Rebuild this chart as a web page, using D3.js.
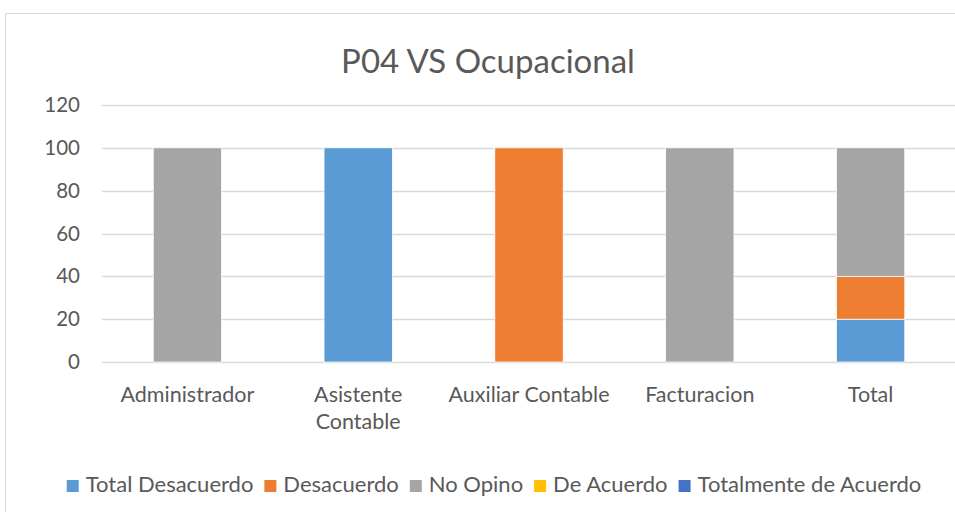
<!DOCTYPE html>
<html><head><meta charset="utf-8">
<script src="https://cdn.jsdelivr.net/npm/d3@7"></script>
<style>body{margin:0;background:#fff}svg{display:block}text{font-family:Lato,"Open Sans",sans-serif;fill:#595959}</style>
</head><body><svg id="c" width="955" height="512"></svg>
<script>
const categories = ["Administrador", "Asistente Contable", "Auxiliar Contable", "Facturacion", "Total"];
const seriesNames = ["Total Desacuerdo", "Desacuerdo", "No Opino", "De Acuerdo", "Totalmente de Acuerdo"];
const totalDesacuerdo = [0, 100, 0, 0, 20];
const desacuerdo = [0, 0, 100, 0, 20];
const noOpino = [100, 0, 0, 100, 60];
const deAcuerdo = [0, 0, 0, 0, 0];
const totalmenteDeAcuerdo = [0, 0, 0, 0, 0];
const yTicks = [0, 20, 40, 60, 80, 100, 120];
const colors = ["#5B9BD5", "#ED7D31", "#A5A5A5", "#FFC000", "#4472C4"];

const svg = d3.select("#c");
svg.append("rect").attr("x", 5.5).attr("y", 13.5).attr("width", 960).attr("height", 520)
  .attr("fill", "#fff").attr("stroke", "#D9D9D9");

const m = {left: 102, right: 956, top: 105, bottom: 362};
const x = d3.scaleBand().domain(categories).range([m.left, m.right]).paddingInner(0.6).paddingOuter(0.3);
const y = d3.scaleLinear().domain([0, 120]).range([m.bottom, m.top]);

svg.append("text").attr("x", 488).attr("y", 73).attr("text-anchor", "middle")
  .attr("font-size", 33).text("P04 VS Ocupacional");

// gridlines
svg.append("g").selectAll("line").data(yTicks).join("line")
  .attr("x1", m.left).attr("x2", m.right)
  .attr("y1", d => Math.round(y(d)) + 0.5).attr("y2", d => Math.round(y(d)) + 0.5)
  .attr("stroke", "#D9D9D9").attr("stroke-width", 1.5);

const yAxis = svg.append("g").attr("transform", `translate(${m.left},0)`)
  .call(d3.axisLeft(y).tickValues(yTicks).tickSize(0).tickPadding(22));
yAxis.select(".domain").remove();
yAxis.selectAll("text").attr("font-size", 20.5).style("font-family", "Lato,sans-serif").attr("fill", "#595959");

const table = categories.map((c, i) => ({
  cat: c,
  "Total Desacuerdo": totalDesacuerdo[i],
  "Desacuerdo": desacuerdo[i],
  "No Opino": noOpino[i],
  "De Acuerdo": deAcuerdo[i],
  "Totalmente de Acuerdo": totalmenteDeAcuerdo[i]
}));
const stacked = d3.stack().keys(seriesNames)(table);

svg.append("g").selectAll("g").data(stacked).join("g")
  .attr("fill", (d, i) => colors[i])
  .selectAll("rect").data(d => d.filter(p => p[1] - p[0] > 0)).join("rect")
  .attr("x", d => x(d.data.cat)).attr("width", x.bandwidth())
  .attr("y", d => y(d[1])).attr("height", d => y(d[0]) - y(d[1]))
  .attr("stroke", "#fff").attr("stroke-width", 0.75);

// x labels
const xLabelLines = {"Asistente Contable": ["Asistente", "Contable"]};
const xl = svg.append("g");
categories.forEach(c => {
  const lines = xLabelLines[c] || [c];
  const t = xl.append("text").attr("x", x(c) + x.bandwidth() / 2).attr("y", 402)
    .attr("text-anchor", "middle").attr("font-size", 21.5);
  lines.forEach((ln, i) => t.append("tspan").attr("x", x(c) + x.bandwidth() / 2).attr("dy", i ? 27 : 0).text(ln));
});

// legend
const lg = svg.append("g");
let cx = 0;
seriesNames.forEach((s, i) => {
  const g = lg.append("g").attr("transform", `translate(${cx},0)`);
  g.append("rect").attr("x", 0).attr("y", -12).attr("width", 12).attr("height", 12).attr("fill", colors[i]);
  const t = g.append("text").attr("x", 19).attr("y", 0).attr("font-size", 22).text(s);
  cx += 19 + t.node().getComputedTextLength() + 11;
});
const total = cx - 11;
lg.attr("transform", `translate(${494 - total / 2},492)`);
</script></body></html>
